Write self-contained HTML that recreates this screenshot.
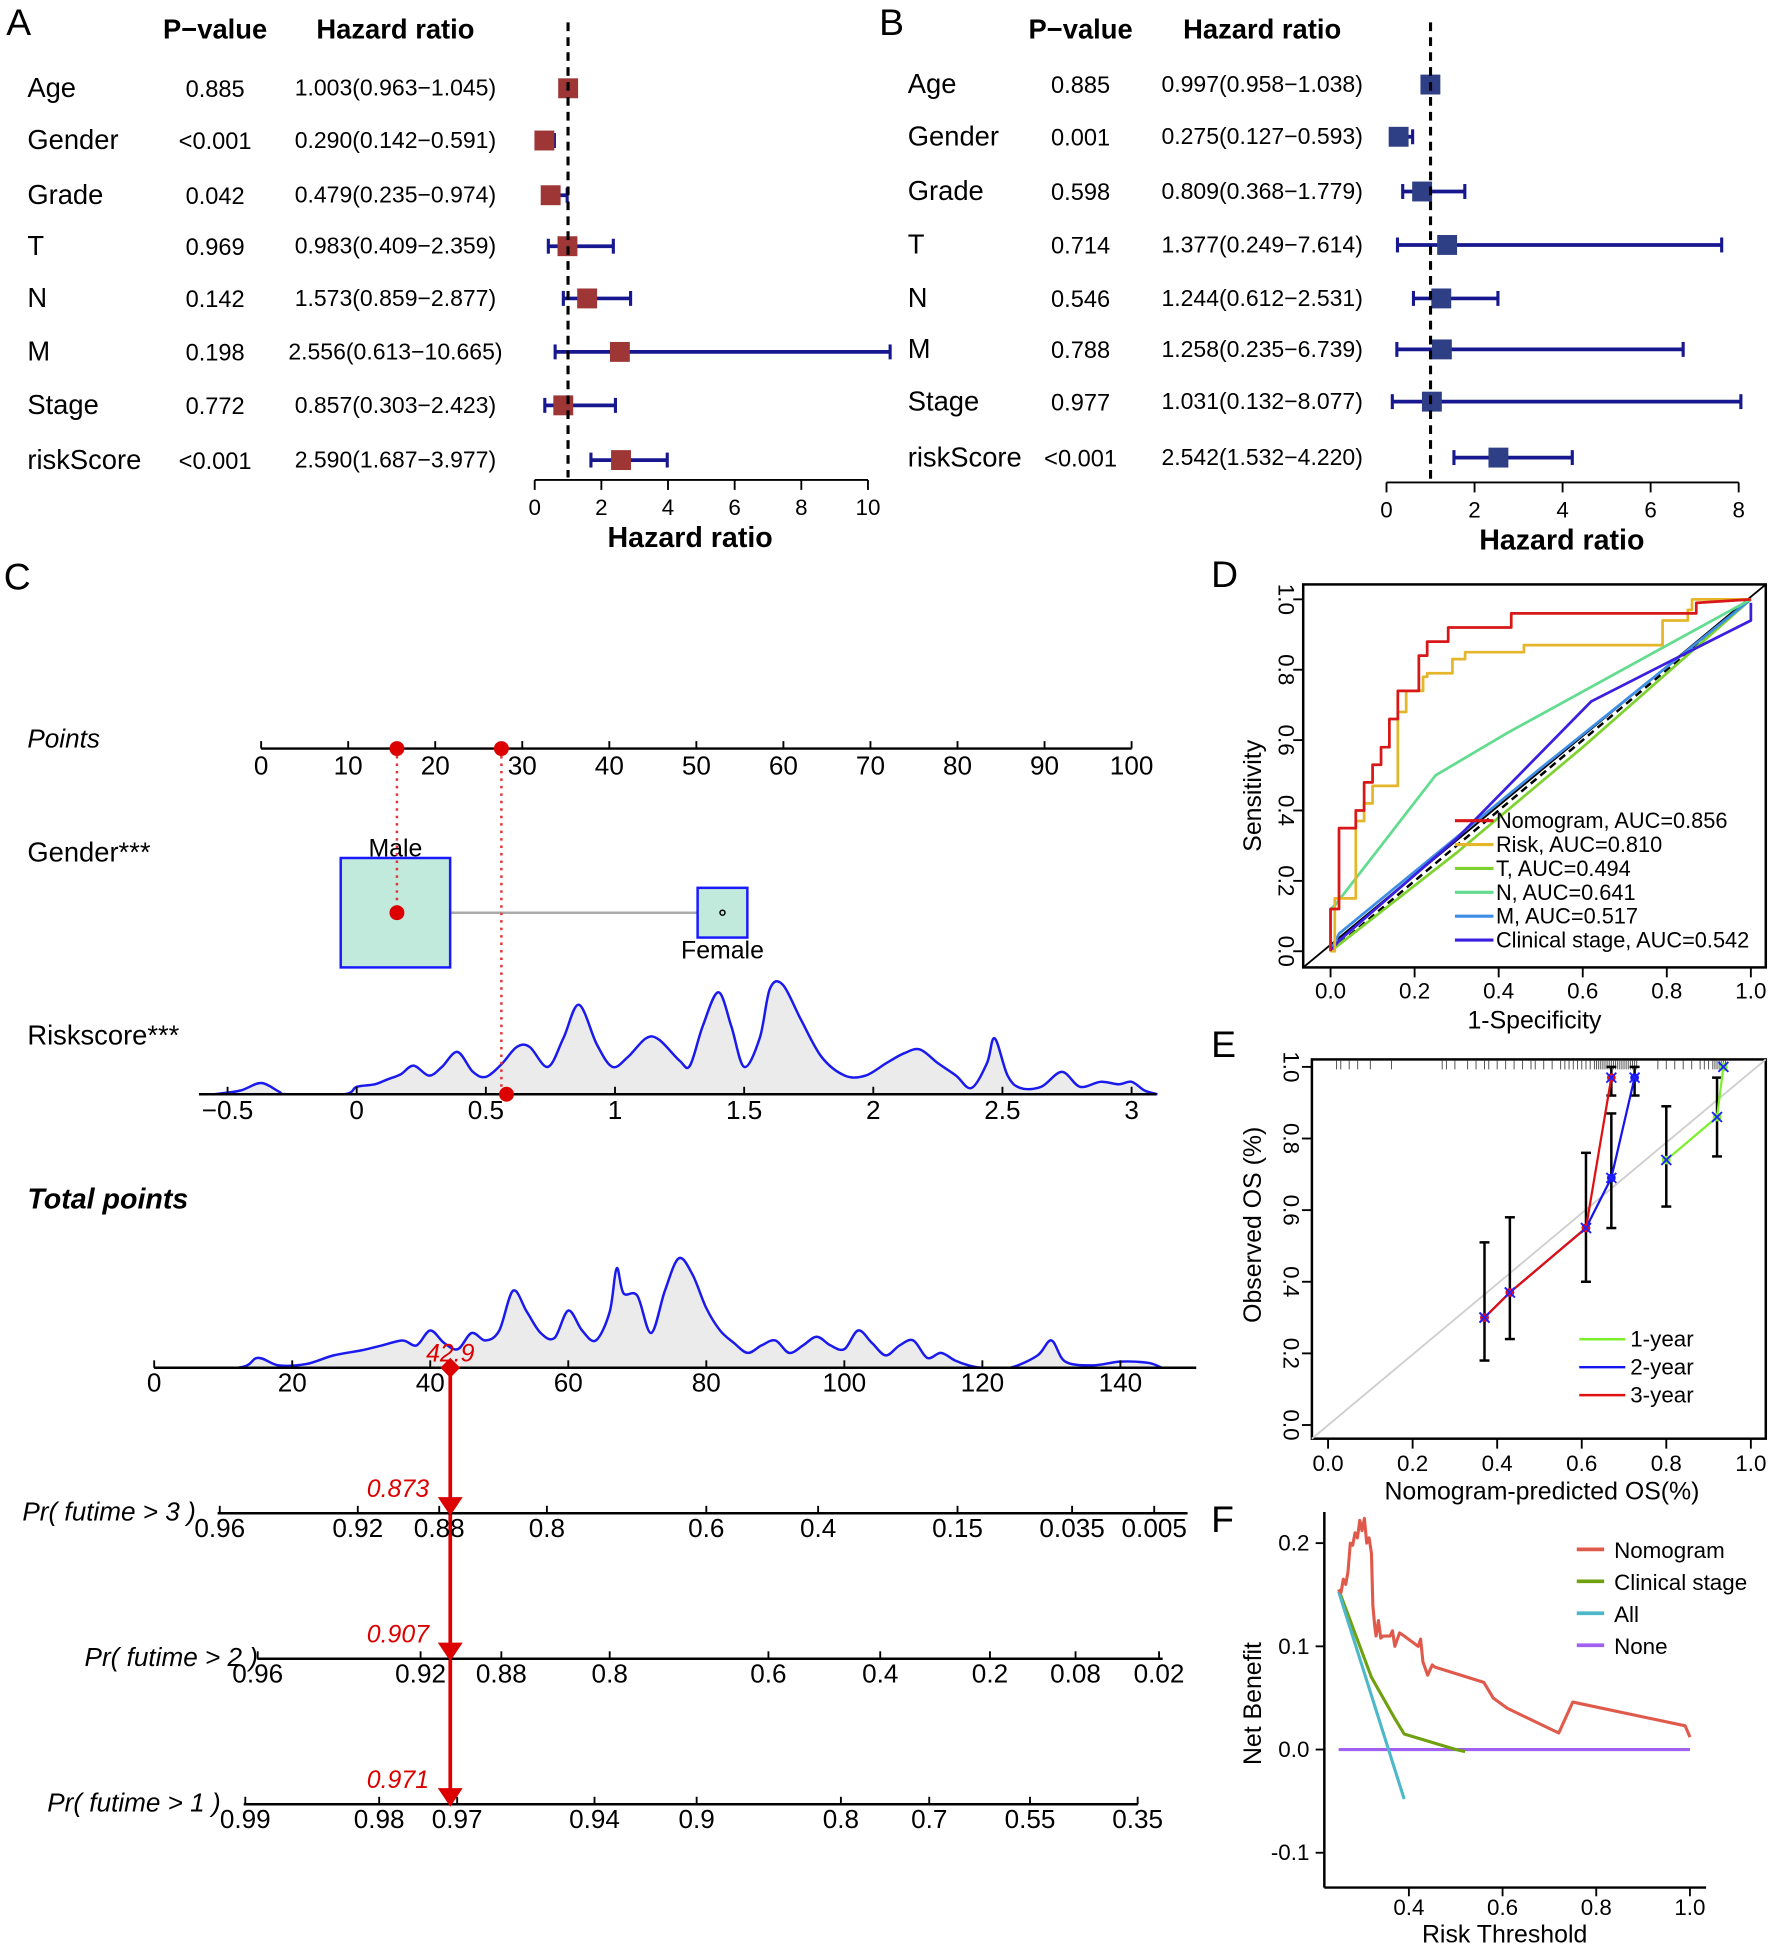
<!DOCTYPE html>
<html><head><meta charset="utf-8"><style>
html,body{margin:0;padding:0;background:#fff}
svg{display:block}
text{font-family:"Liberation Sans",sans-serif}
</style></head><body>
<svg id="fig" xmlns="http://www.w3.org/2000/svg" width="1772" height="1948" viewBox="0 0 1425 1566.6" preserveAspectRatio="none" fill="#000"></svg>
<script>
// ---------- Panel A data ----------
const aNames=["Age","Gender","Grade","T","N","M","Stage","riskScore"];
const aP=["0.885","<0.001","0.042","0.969","0.142","0.198","0.772","<0.001"];
const aHR=[1.003,0.290,0.479,0.983,1.573,2.556,0.857,2.590];
const aLo=[0.963,0.142,0.235,0.409,0.859,0.613,0.303,1.687];
const aHi=[1.045,0.591,0.974,2.359,2.877,10.665,2.423,3.977];
const aTicks=[0,2,4,6,8,10];
// ---------- Panel B data ----------
const bNames=["Age","Gender","Grade","T","N","M","Stage","riskScore"];
const bP=["0.885","0.001","0.598","0.714","0.546","0.788","0.977","<0.001"];
const bHR=[0.997,0.275,0.809,1.377,1.244,1.258,1.031,2.542];
const bLo=[0.958,0.127,0.368,0.249,0.612,0.235,0.132,1.532];
const bHi=[1.038,0.593,1.779,7.614,2.531,6.739,8.077,4.220];
const bTicks=[0,2,4,6,8];
// ---------- Panel C data ----------
const ptsTicks=[0,10,20,30,40,50,60,70,80,90,100];
const genderPts=[15.6,53.0];
const riskPts=27.6;
const rsTicks=[-0.5,0,0.5,1,1.5,2,2.5,3];
const rsVal=[-0.55,-0.45,-0.37,-0.3,-0.27,-0.05,0.0,0.07,0.12,0.17,0.22,0.28,0.33,0.39,0.45,0.5,0.56,0.62,0.67,0.74,0.8,0.86,0.93,0.99,1.05,1.12,1.17,1.25,1.29,1.34,1.40,1.45,1.50,1.56,1.6,1.65,1.72,1.8,1.89,1.97,2.05,2.12,2.18,2.25,2.32,2.38,2.44,2.47,2.52,2.57,2.65,2.73,2.8,2.88,2.95,3.0,3.05,3.1];
const rsDen=[0,3,9,2,0,0,6,8,12,16,23,15,22,34,18,14,24,38,38,22,45,72,40,22,30,45,44,27,23,55,82,55,22,45,85,88,60,30,15,15,25,33,36,25,15,5,25,45,15,5,6,18,6,10,8,10,3,0];
const rsScore=0.58;
const totTicks=[0,20,40,60,80,100,120,140];
const totVal=[0,12,15,18,22,26,30,33,36,38,40,42,44,46,48,50,52,54,56,58,60,62,64,66,67,68,70,72,74,76,78,80,82,84,86,88,90,92,94,96,98,100,102,104,106,108,110,112,114,116,118,120,124,128,130,132,136,140,144,146];
const totDen=[0,0,8,2,3,10,14,18,22,18,30,20,15,28,22,30,62,45,28,24,46,30,22,45,80,60,58,28,62,88,75,48,30,20,12,18,22,12,18,25,18,15,30,20,10,18,22,8,12,6,2,0,0,10,22,5,2,5,4,0];
const totalScore=42.9;
const pr3Lab=["0.96","0.92","0.88","0.8","0.6","0.4","0.15","0.035","0.005"];
const pr3Pts=[9.5,29.5,41.3,56.9,80.0,96.2,116.4,133.0,144.9];
const pr2Lab=["0.96","0.92","0.88","0.8","0.6","0.4","0.2","0.08","0.02"];
const pr2Pts=[15.0,38.6,50.3,66.0,89.0,105.2,121.1,133.5,145.6];
const pr1Lab=["0.99","0.98","0.97","0.94","0.9","0.8","0.7","0.55","0.35"];
const pr1Pts=[13.2,32.6,43.9,63.8,78.6,99.5,112.3,126.9,142.5];
const prVals=["0.873","0.907","0.971"];
// ---------- Panel D data ----------
const rocTicks=[0,0.2,0.4,0.6,0.8,1.0];
const rocNomX=[0,0,0.02,0.02,0.06,0.06,0.08,0.08,0.1,0.1,0.12,0.12,0.14,0.14,0.16,0.16,0.21,0.21,0.23,0.23,0.28,0.28,0.43,0.43,0.87,0.87,1];
const rocNomY=[0,0.12,0.12,0.35,0.35,0.4,0.4,0.48,0.48,0.53,0.53,0.58,0.58,0.66,0.66,0.74,0.74,0.84,0.84,0.88,0.88,0.92,0.92,0.96,0.96,0.99,1];
const rocRiskX=[0,0.01,0.01,0.06,0.06,0.08,0.08,0.1,0.1,0.16,0.16,0.18,0.18,0.22,0.22,0.23,0.23,0.29,0.29,0.32,0.32,0.46,0.46,0.79,0.79,0.85,0.85,0.86,0.86,1];
const rocRiskY=[0,0,0.15,0.15,0.37,0.37,0.42,0.42,0.47,0.47,0.68,0.68,0.74,0.74,0.78,0.78,0.79,0.79,0.83,0.83,0.85,0.85,0.87,0.87,0.94,0.94,0.97,0.97,1,1];
const rocTX=[0,0.3,0.6,1];const rocTY=[0,0.28,0.58,1];
const rocNX=[0,0,0.01,0.25,0.42,1];const rocNY=[0,0.12,0.13,0.50,0.62,1];
const rocMX=[0,0.02,0.5,1];const rocMY=[0,0.05,0.52,1];
const rocCX=[0,0.02,0.3,0.62,0.9,1,1];const rocCY=[0,0.03,0.32,0.71,0.88,0.94,0.99];
const rocNames=["Nomogram, AUC=0.856","Risk, AUC=0.810","T, AUC=0.494","N, AUC=0.641","M, AUC=0.517","Clinical stage, AUC=0.542"];
// ---------- Panel E data ----------
const calTicks=[0,0.2,0.4,0.6,0.8,1.0];
const cal1X=[0.80,0.92,0.935];const cal1Y=[0.74,0.86,1.0];
const cal2X=[0.37,0.43,0.61,0.67,0.725];const cal2Y=[0.30,0.37,0.55,0.69,0.97];
const cal3X=[0.37,0.43,0.61,0.67];const cal3Y=[0.30,0.37,0.55,0.97];
const errX=[0.37,0.43,0.61,0.67,0.67,0.725,0.80,0.92];
const errLo=[0.18,0.24,0.40,0.55,0.92,0.92,0.61,0.75];
const errHi=[0.51,0.58,0.76,0.87,1.0,1.0,0.89,0.97];
const rugVals=[0.02,0.03,0.05,0.07,0.1,0.15,0.27,0.28,0.30,0.33,0.35,0.37,0.38,0.40,0.42,0.44,0.46,0.48,0.49,0.51,0.53,0.55,0.56,0.57,0.58,0.59,0.60,0.61,0.62,0.63,0.635,0.64,0.645,0.65,0.655,0.66,0.665,0.67,0.675,0.68,0.685,0.69,0.695,0.70,0.705,0.71,0.715,0.72,0.725,0.73,0.78,0.80,0.82,0.84,0.86,0.88,0.89,0.90,0.91,0.915,0.92,0.925,0.93,0.935,0.94];
// ---------- Panel F data ----------
const dcaXTicks=[0.4,0.6,0.8,1.0];
const dcaYTicks=[-0.1,0.0,0.1,0.2];
const dcaNomX=[0.25,0.255,0.26,0.265,0.27,0.275,0.28,0.285,0.29,0.295,0.30,0.305,0.31,0.315,0.32,0.323,0.327,0.33,0.335,0.34,0.345,0.36,0.365,0.37,0.38,0.39,0.42,0.425,0.43,0.44,0.45,0.455,0.56,0.58,0.61,0.72,0.75,0.99,1.0];
const dcaNomY=[0.155,0.152,0.165,0.16,0.172,0.2,0.198,0.21,0.205,0.222,0.212,0.224,0.2,0.205,0.19,0.14,0.12,0.11,0.125,0.108,0.11,0.11,0.115,0.1,0.113,0.11,0.1,0.107,0.085,0.072,0.082,0.08,0.065,0.05,0.04,0.016,0.046,0.023,0.012];
const dcaClinX=[0.25,0.32,0.37,0.39,0.5,0.52];const dcaClinY=[0.155,0.07,0.03,0.015,0.0,-0.002];
const dcaAllX=[0.25,0.39];const dcaAllY=[0.153,-0.048];
const dcaNoneX=[0.25,1.0];const dcaNoneY=[0,0];
const dcaNames=["Nomogram","Clinical stage","All","None"];

// ---------- helpers ----------
const svg=document.getElementById('fig');
const NS='http://www.w3.org/2000/svg';
function mk(tag,name,attrs,txt){
  const e=document.createElementNS(NS,tag);
  
  
  for(const k in attrs)e.setAttribute(k,attrs[k]);
  if(txt!==undefined)e.textContent=txt;
  svg.appendChild(e);return e;
}
function line(n,x1,y1,x2,y2,st,w,extra){return mk('line',n,Object.assign({x1,y1,x2,y2,stroke:st,'stroke-width':w},extra||{}));}
function txt(n,x,y,s,size,anchor,extra){return mk('text',n,Object.assign({x,y,'font-size':size,'text-anchor':anchor||'start'},extra||{}),s);}
function poly(n,xs,ys,sx,sy,st,w,extra){
  const p=xs.map((v,i)=>sx(v).toFixed(1)+','+sy(ys[i]).toFixed(1)).join(' ');
  return mk('polyline',n,Object.assign({points:p,fill:'none',stroke:st,'stroke-width':w,'stroke-linejoin':'round'},extra||{}));
}
function lin(d0,d1,r0,r1){return v=>r0+(v-d0)*(r1-r0)/(d1-d0);}
const f3=v=>v.toFixed(3);

// ---------- Forest plots ----------
function forest(pfx,L){
  const sx=lin(0,1,L.x0,L.x1);
  txt(pfx+'-panel-label',L.lx,28,L.letter,30,'start');
  txt(pfx+'-pvalue-header',L.pX,31,'P−value',22,'middle',{'font-weight':'bold'});
  txt(pfx+'-hr-header',L.hX,31,'Hazard ratio',22,'middle',{'font-weight':'bold'});
  L.names.forEach((nm,i)=>{
    const y=L.rows[i];
    txt(pfx+'-row-name',L.nX,y+7,nm,22,'start');
    txt(pfx+'-pvalue',L.pX,y+7,L.p[i],19,'middle');
    txt(pfx+'-hr-text',L.hX,y+6,f3(L.hr[i])+'('+f3(L.lo[i])+'−'+f3(L.hi[i])+')',18.5,'middle');
    const hiC=Math.min(L.hi[i],L.max);
    line(pfx+'-ci-line',sx(L.lo[i]),y,sx(hiC),y,'#17178f',3);
    line(pfx+'-ci-cap',sx(L.lo[i]),y-6,sx(L.lo[i]),y+6,'#17178f',2.5);
    line(pfx+'-ci-cap',sx(hiC),y-6,sx(hiC),y+6,'#17178f',2.5);
    mk('rect',pfx+'-hr-box',{x:sx(L.hr[i])-8,y:y-8,width:16,height:16,fill:L.box});
  });
  line(pfx+'-ref-line',sx(1),18,sx(1),L.axY-2,'#000',2.5,{'stroke-dasharray':'7,5'});
  line(pfx+'-x-axis',sx(L.ticks[0]),L.axY,sx(L.ticks[L.ticks.length-1]),L.axY,'#000',1.5);
  L.ticks.forEach(t=>{line(pfx+'-x-tick',sx(t),L.axY,sx(t),L.axY+8,'#000',1.5);txt(pfx+'-x-tick-label',sx(t),L.axY+28,String(t),18,'middle');});
  txt(pfx+'-x-axis-title',L.tX,L.axY+54,'Hazard ratio',23,'middle',{'font-weight':'bold'});
}
forest('a',{letter:'A',lx:5,x0:430,x1:456.8,max:11,names:aNames,p:aP,hr:aHR,lo:aLo,hi:aHi,ticks:aTicks,rows:[71,113,157,198,240,283,326,370],nX:22,pX:173,hX:318,axY:386,tX:555,box:'#9e3636'});
forest('b',{letter:'B',lx:707,x0:1115,x1:1150.4,max:8.05,names:bNames,p:bP,hr:bHR,lo:bLo,hi:bHi,ticks:bTicks,rows:[68,110,154,197,240,281,323,368],nX:730,pX:869,hX:1015,axY:388,tX:1256,box:'#2e3f86'});

// ---------- Nomogram ----------
txt('c-panel-label',3,474,'C',30);
const px=lin(0,100,210,910);
line('points-axis',px(0),602,px(100),602,'#000',2);
ptsTicks.forEach(t=>{line('points-tick',px(t),596,px(t),602,'#000',1.5);txt('points-tick-label',px(t),623,String(t),21,'middle');});
txt('points-label',22,601,'Points',21,'start',{'font-style':'italic'});
txt('gender-label',22,693,'Gender***',22);
line('gender-connector',362,734,561,734,'#aaa',2);
mk('rect','male-box',{x:274,y:690,width:88,height:88,fill:'#c2eadc',stroke:'#1a1aff','stroke-width':2});
mk('rect','female-box',{x:561,y:714,width:40,height:40,fill:'#c2eadc',stroke:'#1a1aff','stroke-width':2});
mk('circle','female-dot',{cx:581,cy:734,r:2,fill:'none',stroke:'#000','stroke-width':1.2});
txt('male-label',318,689,'Male',20,'middle');
txt('female-label',581,771,'Female',20,'middle');
line('gender-dotted',px(genderPts[0]),602,px(genderPts[0]),734,'#e53333',2,{'stroke-dasharray':'2,4'});
mk('circle','gender-dot',{cx:px(genderPts[0]),cy:734,r:6,fill:'#dd0000'});
mk('circle','gender-points-dot',{cx:px(genderPts[0]),cy:602,r:6,fill:'#dd0000'});
const rx=lin(-0.5,3,183,910);
txt('riskscore-label',22,840,'Riskscore***',22);
function density(n,xs,ds,sx,base){
  let d='M'+sx(xs[0]).toFixed(1)+','+base;
  const pts=xs.map((v,i)=>[sx(v),base-ds[i]]);
  d+=' L'+pts[0][0].toFixed(1)+','+pts[0][1].toFixed(1);
  for(let i=0;i<pts.length-1;i++){
    const p0=pts[Math.max(0,i-1)],p1=pts[i],p2=pts[i+1],p3=pts[Math.min(pts.length-1,i+2)];
    const c1=[p1[0]+(p2[0]-p0[0])/6,p1[1]+(p2[1]-p0[1])/6],c2=[p2[0]-(p3[0]-p1[0])/6,p2[1]-(p3[1]-p1[1])/6];
    d+=` C${c1[0].toFixed(1)},${Math.min(base,c1[1]).toFixed(1)} ${c2[0].toFixed(1)},${Math.min(base,c2[1]).toFixed(1)} ${p2[0].toFixed(1)},${p2[1].toFixed(1)}`;
  }
  mk('path',n+'-fill',{d:d+' L'+pts[pts.length-1][0].toFixed(1)+','+base+' Z',fill:'#ebebeb',stroke:'none'});
  mk('path',n+'-curve',{d:d.replace(/^M[^L]*L/,'M'),fill:'none',stroke:'#1a1aee','stroke-width':2});
}
density('riskscore-density',rsVal,rsDen,rx,880);
line('riskscore-axis',160,880,930,880,'#000',2);
rsTicks.forEach(t=>{line('riskscore-tick',rx(t),874,rx(t),880,'#000',1.5);txt('riskscore-tick-label',rx(t),900,t<0?'−'+Math.abs(t):String(t),21,'middle');});
line('riskscore-dotted',px(riskPts),602,px(riskPts),880,'#e53333',2,{'stroke-dasharray':'2,4'});
mk('circle','riskscore-points-dot',{cx:px(riskPts),cy:602,r:6,fill:'#dd0000'});
mk('circle','riskscore-dot',{cx:rx(rsScore),cy:880,r:6,fill:'#dd0000'});
const tx=lin(0,140,124,901);
txt('total-points-label',22,972,'Total points',23,'start',{'font-weight':'bold','font-style':'italic'});
density('total-density',totVal,totDen,tx,1100);
line('total-axis',124,1100,962,1100,'#000',2);
totTicks.forEach(t=>{line('total-tick',tx(t),1094,tx(t),1100,'#000',1.5);txt('total-tick-label',tx(t),1119,String(t),21,'middle');});
txt('total-value',tx(totalScore),1095,String(totalScore),20,'middle',{'font-style':'italic',fill:'#dd0000'});
line('total-arrow-line',tx(totalScore),1100,tx(totalScore),1445,'#dd0000',3);
mk('path','total-dot',{d:`M${tx(totalScore)},1092 l8,8 l-8,8 l-8,-8z`,fill:'#dd0000'});
const prRows=[[1217,'Pr( futime > 3 )',18,pr3Lab,pr3Pts,175,955],[1334,'Pr( futime > 2 )',68,pr2Lab,pr2Pts,207,935],[1451,'Pr( futime > 1 )',38,pr1Lab,pr1Pts,196,915]];
prRows.forEach((r,i)=>{
  const [y,lab,lx,labs,pts,x0,x1]=r;
  txt('pr-label',lx,y+6,lab,21,'start',{'font-style':'italic'});
  line('pr-axis',x0,y,x1,y,'#000',2);
  labs.forEach((s,j)=>{line('pr-tick',tx(pts[j]),y-6,tx(pts[j]),y,'#000',1.5);txt('pr-tick-label',tx(pts[j]),y+19,s,21,'middle');});
  mk('path','pr-arrowhead',{d:`M${tx(totalScore)-10},${y-13} L${tx(totalScore)+10},${y-13} L${tx(totalScore)},${y+2}Z`,fill:'#dd0000'});
  txt('pr-value',320,y-13,prVals[i],20,'middle',{'font-style':'italic',fill:'#dd0000'});
});

// ---------- ROC (D) ----------
txt('d-panel-label',974,472,'D',30);
const dx=lin(0,1,1070,1408),dy=lin(0,1,765,482);
mk('rect','roc-frame',{x:1048,y:470,width:372,height:308,fill:'none',stroke:'#000','stroke-width':2});
line('roc-corner-line',1048,778,1420,470,'#000',1.5);
line('roc-diagonal',dx(0),dy(0),dx(1),dy(1),'#000',2,{'stroke-dasharray':'6,4'});
rocTicks.forEach(t=>{
  line('roc-x-tick',dx(t),778,dx(t),786,'#000',1.5);txt('roc-x-tick-label',dx(t),803,t.toFixed(1),18,'middle');
  line('roc-y-tick',1040,dy(t),1048,dy(t),'#000',1.5);
  txt('roc-y-tick-label',1033,dy(t),t.toFixed(1),18,'middle',{transform:`rotate(90 1033 ${dy(t)})`,'dominant-baseline':'middle'});
});
txt('roc-x-title',1234,827,'1-Specificity',20,'middle');
txt('roc-y-title',1014,640,'Sensitivity',20,'middle',{transform:'rotate(-90 1014 640)'});
const rocCols=['#d81818','#e6b62a','#7fd330','#62dc8e','#3f8ee6','#3a1fe0'];
poly('roc-t-curve',rocTX,rocTY,dx,dy,rocCols[2],2.2);
poly('roc-m-curve',rocMX,rocMY,dx,dy,rocCols[4],2.2);
poly('roc-n-curve',rocNX,rocNY,dx,dy,rocCols[3],2.2);
poly('roc-clinical-curve',rocCX,rocCY,dx,dy,rocCols[5],2.2);
poly('roc-risk-curve',rocRiskX,rocRiskY,dx,dy,rocCols[1],2.2);
poly('roc-nomogram-curve',rocNomX,rocNomY,dx,dy,rocCols[0],2.2);
rocNames.forEach((s,i)=>{const y=660+i*19.2;line('roc-legend-swatch',1170,y,1201,y,rocCols[i],2.5);txt('roc-legend-text',1203,y+6,s,17.5);});

// ---------- Calibration (E) ----------
txt('e-panel-label',974,850,'E',30);
const ex=lin(0,1,1068,1408),ey=lin(0,1,1146,858);
mk('rect','cal-frame',{x:1055,y:852,width:365,height:305,fill:'none',stroke:'#000','stroke-width':2});
line('cal-ideal-line',1055,1157,1420,852,'#cfcfcf',1.5);
rugVals.forEach(v=>line('cal-rug',ex(v),853,ex(v),860,'#555',0.8));
calTicks.forEach(t=>{
  line('cal-x-tick',ex(t),1157,ex(t),1165,'#000',1.5);txt('cal-x-tick-label',ex(t),1183,t.toFixed(1),18,'middle');
  line('cal-y-tick',1047,ey(t),1055,ey(t),'#000',1.5);
  txt('cal-y-tick-label',1037,ey(t),t.toFixed(1),18,'middle',{transform:`rotate(90 1037 ${ey(t)})`,'dominant-baseline':'middle'});
});
txt('cal-x-title',1240,1206,'Nomogram-predicted OS(%)',20,'middle');
txt('cal-y-title',1014,985,'Observed OS (%)',20,'middle',{transform:'rotate(-90 1014 985)'});
errX.forEach((v,i)=>{line('cal-errbar',ex(v),ey(errLo[i]),ex(v),ey(errHi[i]),'#000',2);line('cal-errcap',ex(v)-4,ey(errLo[i]),ex(v)+4,ey(errLo[i]),'#000',2);line('cal-errcap',ex(v)-4,ey(errHi[i]),ex(v)+4,ey(errHi[i]),'#000',2);});
const calS=[[cal1X,cal1Y,'#7cf02a','cal-1year'],[cal2X,cal2Y,'#1515ee','cal-2year'],[cal3X,cal3Y,'#e01010','cal-3year']];
calS.forEach(s=>{poly(s[3]+'-line',s[0],s[1],ex,ey,s[2],1.8);s[0].forEach((v,i)=>{mk('circle',s[3]+'-point',{cx:ex(v),cy:ey(s[1][i]),r:3.5,fill:s[2]});const X=ex(v),Y=ey(s[1][i]);mk('path',s[3]+'-cross',{d:`M${X-4},${Y-4}L${X+4},${Y+4}M${X-4},${Y+4}L${X+4},${Y-4}`,stroke:'#2020ff','stroke-width':1.5});});});
[['1-year','#7cf02a'],['2-year','#1515ee'],['3-year','#e01010']].forEach((l,i)=>{const y=1077+i*22.5;line('cal-legend-swatch',1270,y,1307,y,l[1],2);txt('cal-legend-text',1311,y+6,l[0],18);});

// ---------- DCA (F) ----------
txt('f-panel-label',974,1232,'F',30);
const fx=lin(0.4,1.0,1133,1359),fy=lin(0,0.2,1407,1241);
line('dca-y-axis',1065,1216,1065,1518,'#000',2);
line('dca-x-axis',1065,1518,1372,1518,'#000',2);
dcaXTicks.forEach(t=>{line('dca-x-tick',fx(t),1518,fx(t),1525,'#000',1.5);txt('dca-x-tick-label',fx(t),1540,t.toFixed(1),18,'middle');});
dcaYTicks.forEach(t=>{line('dca-y-tick',1058,fy(t),1065,fy(t),'#000',1.5);txt('dca-y-tick-label',1053,fy(t)+6,t.toFixed(1),18,'end');});
txt('dca-x-title',1210,1562,'Risk Threshold',20,'middle');
txt('dca-y-title',1014,1370,'Net Benefit',20,'middle',{transform:'rotate(-90 1014 1370)'});
const dcaCols=['#e05a4c','#6fa010','#4db8c8','#a060f0'];
poly('dca-none-line',dcaNoneX,dcaNoneY,fx,fy,dcaCols[3],2.5);
poly('dca-clinical-line',dcaClinX,dcaClinY,fx,fy,dcaCols[1],2.5);
poly('dca-all-line',dcaAllX,dcaAllY,fx,fy,dcaCols[2],2.5);
poly('dca-nomogram-line',dcaNomX,dcaNomY,fx,fy,dcaCols[0],2.5);
dcaNames.forEach((s,i)=>{const y=1246+i*25.7;line('dca-legend-swatch',1268,y,1290,y,dcaCols[i],3);txt('dca-legend-text',1298,y+7,s,18);});
</script>
</body></html>
